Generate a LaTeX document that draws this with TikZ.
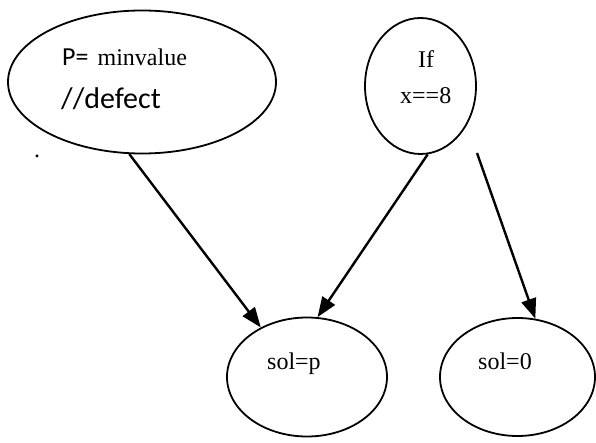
\documentclass[tikz,border=0pt]{standalone}
\usepackage{fontspec}
\setmainfont{Liberation Serif}
\newfontfamily\calib{Carlito}
\usetikzlibrary{shapes.geometric,arrows.meta}
\begin{document}
\begin{tikzpicture}[x=1pt,y=-1pt,
  bubble/.style={draw,ellipse,line width=1.8pt,inner sep=0pt},
  flow/.style={line width=2.4pt,-{Triangle[length=20pt,width=15pt]}},
  label/.style={inner sep=0pt,anchor=base west}]
  \useasboundingbox (0,0) rectangle (596,443);
  % nodes
  \node[bubble,minimum width=268pt,minimum height=143pt] (pmin) at (142,82) {};
  \node[bubble,minimum width=111pt,minimum height=136pt] (cond) at (420.5,86) {};
  \node[bubble,minimum width=160pt,minimum height=119pt] (solp) at (307,377) {};
  \node[bubble,minimum width=155pt,minimum height=118pt] (sol0) at (517.5,377) {};
  % texts
  \node[label] (t1) at (62,66) {\calib\fontsize{26}{30}\selectfont P=\hspace{9pt}\fontsize{24}{30}\rmfamily minvalue};
  \node[label] (t2) at (61,109) {\calib\fontsize{30}{32}\selectfont //defect};
  \node[label] (t3) at (418,68) {\fontsize{24}{26}\selectfont If};
  \node[label] (t4) at (400,104) {\fontsize{24}{26}\selectfont x==8};
  \node[label] (t5) at (267,369) {\fontsize{24}{26}\selectfont sol=p};
  \node[label] (t6) at (478,369) {\fontsize{24}{26}\selectfont sol=0};
  \node[label] (dot) at (34,158) {\fontsize{24}{26}\selectfont .};
  % connectors
  \coordinate (c3) at (477,153);
  \draw[flow] (pmin.260.4) -- (solp.133.8);
  \draw[flow] (cond.276.5) -- (solp.80.4);
  \draw[flow] (c3) -- (sol0.73);
\end{tikzpicture}
\end{document}
